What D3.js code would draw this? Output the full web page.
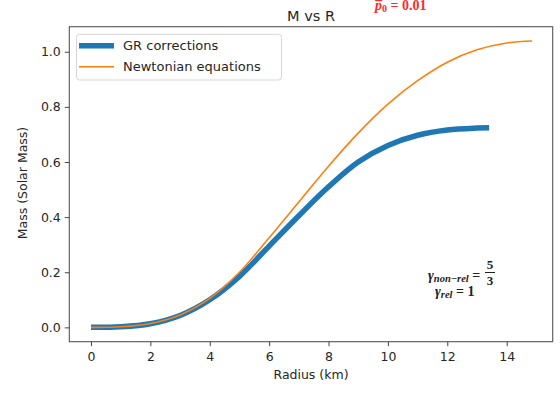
<!DOCTYPE html>
<html><head><meta charset="utf-8">
<script src="https://cdn.jsdelivr.net/npm/d3@7"></script>
<style>
body{margin:0;background:#fff;}
</style></head>
<body><svg id="c" width="560" height="393" font-family="DejaVu Sans"></svg>
<script>
const grRadius = [0,1,2,3,4,5,6,7,8,9,10,11,12,13,13.41];
const grMass   = [0,0.002,0.013,0.043,0.10,0.185,0.295,0.405,0.51,0.60,0.66,0.697,0.716,0.723,0.724];
const nwRadius = [0,1,2,3,4,5,6,7,8,9,10,11,12,13,14,14.86];
const nwMass   = [0,0.002,0.014,0.045,0.105,0.20,0.325,0.455,0.585,0.705,0.81,0.895,0.962,1.007,1.032,1.039];
const xTicks = [0,2,4,6,8,10,12,14];
const yTicks = [0.0,0.2,0.4,0.6,0.8,1.0];
const seriesNames = ["GR corrections","Newtonian equations"];

const svg = d3.select("#c");
const L=69.3,R=552.7,T=26.7,B=341.7;
const x = d3.scaleLinear().domain([-0.73,15.55]).range([L,R]);
const y = d3.scaleLinear().domain([-0.052,1.091]).range([B,T]);

const line = d3.line().x(d=>x(d[0])).y(d=>y(d[1])).curve(d3.curveCatmullRom.alpha(0.5));
svg.append("path").datum(d3.zip(grRadius,grMass)).attr("d",line)
  .attr("fill","none").attr("stroke","#1f77b4").attr("stroke-width",5.5).attr("stroke-linecap","butt");
svg.append("path").datum(d3.zip(nwRadius,nwMass)).attr("d",line)
  .attr("fill","none").attr("stroke","#ff7f0e").attr("stroke-width",1.6);

// frame
svg.append("rect").attr("x",L).attr("y",T).attr("width",R-L).attr("height",B-T)
  .attr("fill","none").attr("stroke","#555").attr("stroke-width",1.1);

const xa = svg.append("g").attr("transform",`translate(0,${B})`)
  .call(d3.axisBottom(x).tickValues(xTicks).tickFormat(d3.format("d")).tickSize(4.5).tickPadding(4));
const ya = svg.append("g").attr("transform",`translate(${L},0)`)
  .call(d3.axisLeft(y).tickValues(yTicks).tickFormat(d3.format(".1f")).tickSize(4.5).tickPadding(4));
[xa,ya].forEach(a=>{
  a.attr("font-family","DejaVu Sans");
  a.select(".domain").remove();
  a.selectAll("line").attr("stroke","#444").attr("stroke-width",1);
  a.selectAll("text").attr("font-size",12.5).attr("fill","#262626");
});
xa.selectAll("text").attr("dy","0.9em");

svg.append("text").attr("x",(L+R)/2).attr("y",379).attr("text-anchor","middle")
  .attr("font-size",12.5).attr("fill","#262626").text("Radius (km)");
svg.append("text").attr("transform","translate(27,183) rotate(-90)").attr("text-anchor","middle")
  .attr("font-size",12.5).attr("fill","#262626").text("Mass (Solar Mass)");
svg.append("text").attr("x",(L+R)/2).attr("y",21).attr("text-anchor","middle")
  .attr("font-size",14.5).attr("fill","#262626").text("M vs R");

// legend
const lg = svg.append("g");
lg.append("rect").attr("x",76.5).attr("y",34.3).attr("width",205).attr("height",45.7).attr("rx",3)
  .attr("fill","#fff").attr("fill-opacity",0.8).attr("stroke","#d6d6d6").attr("stroke-width",1);
const cols=["#1f77b4","#ff7f0e"], widths=[5.5,1.6], ys=[45.7,66.7];
seriesNames.forEach((n,i)=>{
  lg.append("line").attr("x1",79).attr("x2",114).attr("y1",ys[i]).attr("y2",ys[i])
    .attr("stroke",cols[i]).attr("stroke-width",widths[i]);
  lg.append("text").attr("x",123).attr("y",ys[i]).attr("dy","0.35em").attr("font-size",13)
    .attr("fill","#262626").text(n);
});

const serif = "Liberation Serif";
// red annotation
const rt = svg.append("text").attr("x",375).attr("y",10).attr("fill","#ff2a2a")
  .attr("font-family",serif).attr("font-weight","bold").attr("font-size",14);
rt.append("tspan").attr("font-style","italic").text("p\u0305");
rt.append("tspan").attr("font-size",10).attr("dy",2).text("0");
rt.append("tspan").attr("dy",-2).text(" = 0.01");

// gamma annotation
const g1 = svg.append("text").attr("x",428).attr("y",280).attr("fill","#222")
  .attr("font-family",serif).attr("font-weight","bold").attr("font-size",14);
g1.append("tspan").attr("font-style","italic").text("\u03b3");
g1.append("tspan").attr("font-style","italic").attr("font-size",10.5).attr("dy",2).text("non\u2212rel");
g1.append("tspan").attr("dy",-2).text(" =");
svg.append("text").attr("x",490).attr("y",269).attr("text-anchor","middle").attr("fill","#222")
  .attr("font-family",serif).attr("font-weight","bold").attr("font-size",13).text("5");
svg.append("line").attr("x1",485).attr("x2",495).attr("y1",272.5).attr("y2",272.5).attr("stroke","#222").attr("stroke-width",1);
svg.append("text").attr("x",490).attr("y",285).attr("text-anchor","middle").attr("fill","#222")
  .attr("font-family",serif).attr("font-weight","bold").attr("font-size",13).text("3");
const g2 = svg.append("text").attr("x",435).attr("y",296).attr("fill","#222")
  .attr("font-family",serif).attr("font-weight","bold").attr("font-size",14);
g2.append("tspan").attr("font-style","italic").text("\u03b3");
g2.append("tspan").attr("font-style","italic").attr("font-size",10.5).attr("dy",2).text("rel");
g2.append("tspan").attr("dy",-2).text(" = 1");
</script></body></html>
